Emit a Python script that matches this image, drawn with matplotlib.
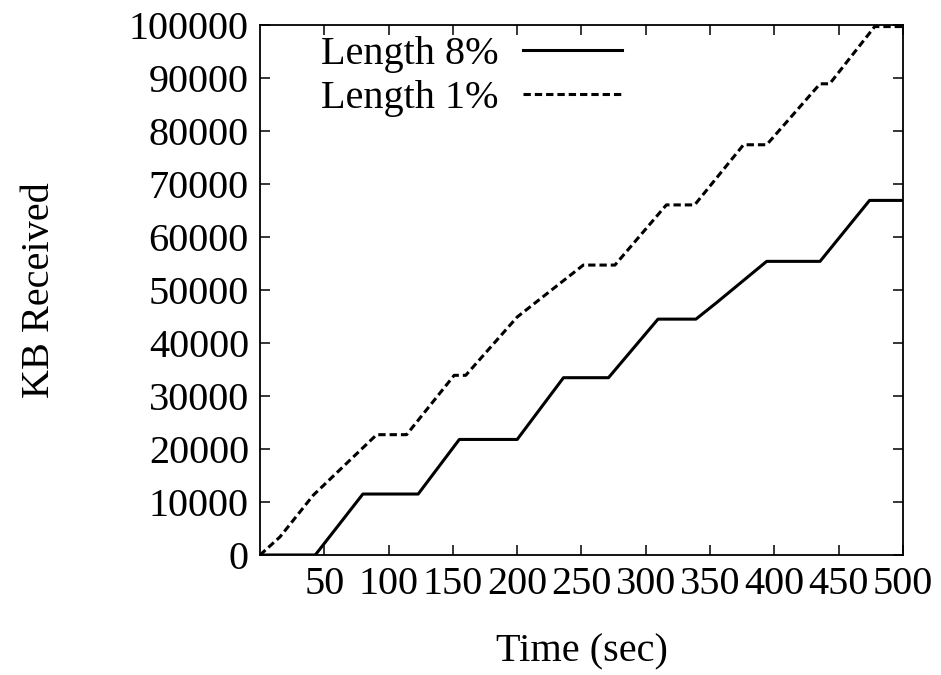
import matplotlib
matplotlib.use("Agg")
import matplotlib.pyplot as plt

# time (sec) / KB received
t_8 = [0, 43, 80, 123, 155, 200, 236, 271, 309.5, 339, 355, 394, 435.5, 474, 500]
kb_8 = [0, 0, 11500, 11500, 21800, 21800, 33450, 33450, 44500, 44500, 47600, 55400, 55400, 66900, 66900]

t_1 = [0, 15.5, 41.5, 90.7, 114, 151, 160, 200, 251.4, 276, 316, 338, 376, 394, 435.5, 443, 478, 500]
kb_1 = [0, 3400, 11300, 22700, 22700, 33900, 33900, 44900, 54700, 54700, 66050, 66050, 77400, 77400, 88900, 88900, 99700, 99700]

x_ticks = [50, 100, 150, 200, 250, 300, 350, 400, 450, 500]
y_ticks = [0, 10000, 20000, 30000, 40000, 50000, 60000, 70000, 80000, 90000, 100000]

plt.rcParams['font.family'] = ['Liberation Serif', 'DejaVu Serif']

fig = plt.figure(figsize=(9.41, 6.75), dpi=100)
ax = fig.add_axes([0.2763, 0.1778, 0.6833, 0.7852])

ax.plot(t_8, kb_8, color='black', lw=2.2, label='Length 8%')
ax.plot(t_1, kb_1, color='black', lw=2.2, dashes=(2.4, 1.3), label='Length 1%')

ax.set_xlim(0, 500)
ax.set_ylim(0, 100000)
ax.set_xticks(x_ticks)
ax.set_yticks(y_ticks)
ax.tick_params(direction='in', length=7, width=1.1, top=True, right=True,
               labelsize=29, pad=8)
for s in ax.spines.values():
    s.set_linewidth(1.3)

ax.set_xlabel('Time (sec)', fontsize=29, labelpad=22)
ax.set_ylabel('KB Received', fontsize=29, labelpad=51)

ax.legend(loc='upper left', bbox_to_anchor=(0.095, 0.98), frameon=False,
          fontsize=29, markerfirst=False, handlelength=2.45, handletextpad=0.6,
          labelspacing=0.17, borderpad=0, borderaxespad=0)

fig.savefig('out.png', dpi=100)
